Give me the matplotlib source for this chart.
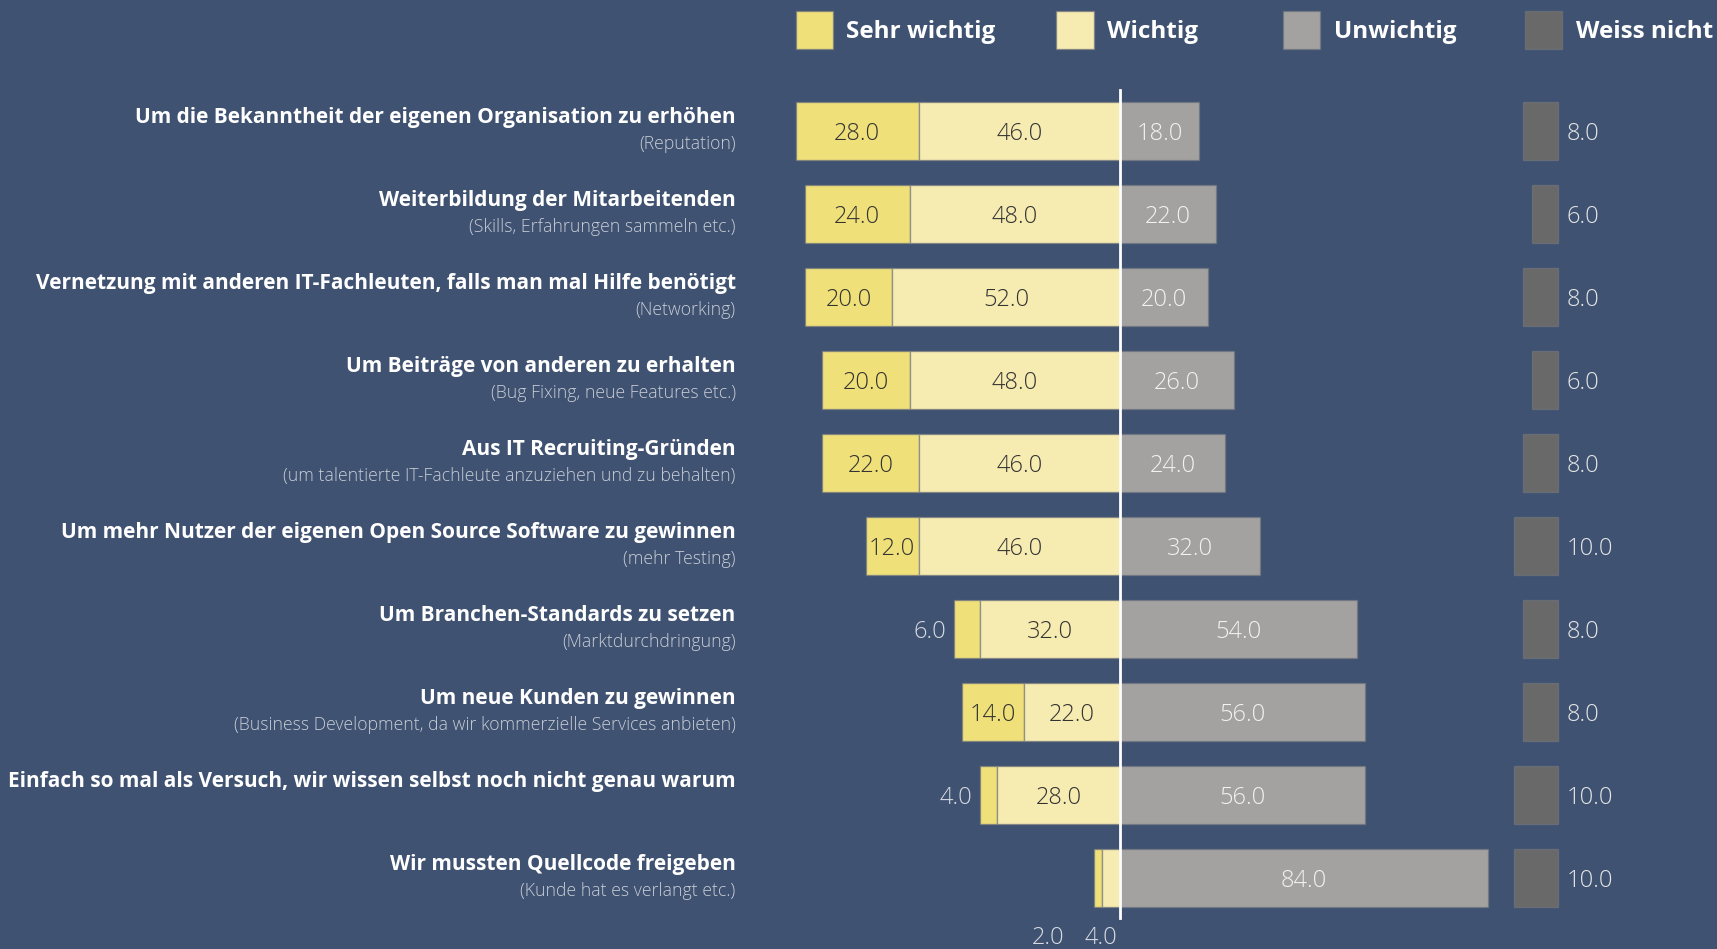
import matplotlib.pyplot as plt
from matplotlib.patches import Rectangle

plt.rcParams['font.family'] = ['Open Sans', 'DejaVu Sans']

# survey answers in percent, one value per question
labels = ["Um die Bekanntheit der eigenen Organisation zu erhöhen",
          "Weiterbildung der Mitarbeitenden",
          "Vernetzung mit anderen IT-Fachleuten, falls man mal Hilfe benötigt",
          "Um Beiträge von anderen zu erhalten",
          "Aus IT Recruiting-Gründen",
          "Um mehr Nutzer der eigenen Open Source Software zu gewinnen",
          "Um Branchen-Standards zu setzen",
          "Um neue Kunden zu gewinnen",
          "Einfach so mal als Versuch, wir wissen selbst noch nicht genau warum",
          "Wir mussten Quellcode freigeben"]
sublabels = ["(Reputation)",
             "(Skills, Erfahrungen sammeln etc.)",
             "(Networking)",
             "(Bug Fixing, neue Features etc.)",
             "(um talentierte IT-Fachleute anzuziehen und zu behalten)",
             "(mehr Testing)",
             "(Marktdurchdringung)",
             "(Business Development, da wir kommerzielle Services anbieten)",
             "",
             "(Kunde hat es verlangt etc.)"]
sehr_wichtig = [28, 24, 20, 20, 22, 12, 6, 14, 4, 2]
wichtig = [46, 48, 52, 48, 46, 46, 32, 22, 28, 4]
unwichtig = [18, 22, 20, 26, 24, 32, 54, 56, 56, 84]
weiss_nicht = [8, 6, 8, 6, 8, 10, 8, 8, 10, 10]

legend_names = ["Sehr wichtig", "Wichtig", "Unwichtig", "Weiss nicht"]

bg = '#3f5271'
c_sehr = '#efe07a'
c_wicht = '#f6ebb1'
c_unw = '#a3a2a0'
c_weiss = '#696969'
edge = (0.45, 0.47, 0.5, 0.6)

fig = plt.figure(figsize=(17.17, 9.49), dpi=100, facecolor=bg)
ax = fig.add_axes([0, 0, 1, 1])
ax.set_facecolor(bg)
ax.set_xlim(-255.7, 136.3)
ax.set_ylim(9.855, -1.578)
ax.axis('off')

y = list(range(len(labels)))
h = 0.71
left_sehr = [-(s + w) for s, w in zip(sehr_wichtig, wichtig)]
left_wicht = [-w for w in wichtig]
left_weiss = [100 - v for v in weiss_nicht]

ax.barh(y, sehr_wichtig, left=left_sehr, height=h, color=c_sehr, edgecolor=edge, lw=1)
ax.barh(y, wichtig, left=left_wicht, height=h, color=c_wicht, edgecolor=edge, lw=1)
ax.barh(y, unwichtig, left=0, height=h, color=c_unw, edgecolor=edge, lw=1)
ax.barh(y, weiss_nicht, left=left_weiss, height=h, color=c_weiss, edgecolor=edge, lw=1)

ax.plot([0, 0], [-0.494, 9.48], color='white', lw=2)

vfs = 17
dy = 0.04
for i in y:
    s, w, u, k = sehr_wichtig[i], wichtig[i], unwichtig[i], weiss_nicht[i]
    if s < 5 and w < 5:
        # both segments too narrow: labels go below the bar
        ax.text(-0.5, i + 0.72, f"{w:.1f}", ha='right', va='center', fontsize=vfs,
                color='#d8dbe2', fontweight='light')
        ax.text(-12.75, i + 0.72, f"{s:.1f}", ha='right', va='center', fontsize=vfs,
                color='#d8dbe2', fontweight='light')
    else:
        if s < 8:
            ax.text(left_sehr[i] - 1.75, i + dy, f"{s:.1f}", ha='right', va='center',
                    fontsize=vfs, color='#d8dbe2', fontweight='light')
        else:
            ax.text(left_sehr[i] + s / 2, i + dy, f"{s:.1f}", ha='center', va='center',
                    fontsize=vfs, color='#333333', fontweight='light')
        ax.text(-w / 2, i + dy, f"{w:.1f}", ha='center', va='center', fontsize=vfs,
                color='#333333', fontweight='light')
    ax.text(u / 2, i + dy, f"{u:.1f}", ha='center', va='center', fontsize=vfs,
            color='#f2f2f2', fontweight='light')
    ax.text(102, i + dy, f"{k:.1f}", ha='left', va='center', fontsize=vfs,
            color='#e6e6e6', fontweight='light')

    ax.text(-87.75, i - 0.16, labels[i], ha='right', va='center', fontsize=15,
            color='white', fontweight='bold')
    if sublabels[i]:
        ax.text(-87.75, i + 0.16, sublabels[i], ha='right', va='center', fontsize=12.7,
                color='#c9cdd6', fontweight='light')

# legend
leg_x = [-74, -14.5, 37.25, 92.5]
for name, col, lx in zip(legend_names, [c_sehr, c_wicht, c_unw, c_weiss], leg_x):
    ax.add_patch(Rectangle((lx, -1.446), 8.5, 0.458, facecolor=col, edgecolor=edge, lw=1))
    ax.text(lx + 11.5, -1.19, name, ha='left', va='center', fontsize=17.5,
            color='white', fontweight='bold')

fig.savefig('out.png', dpi=100, facecolor=bg)
